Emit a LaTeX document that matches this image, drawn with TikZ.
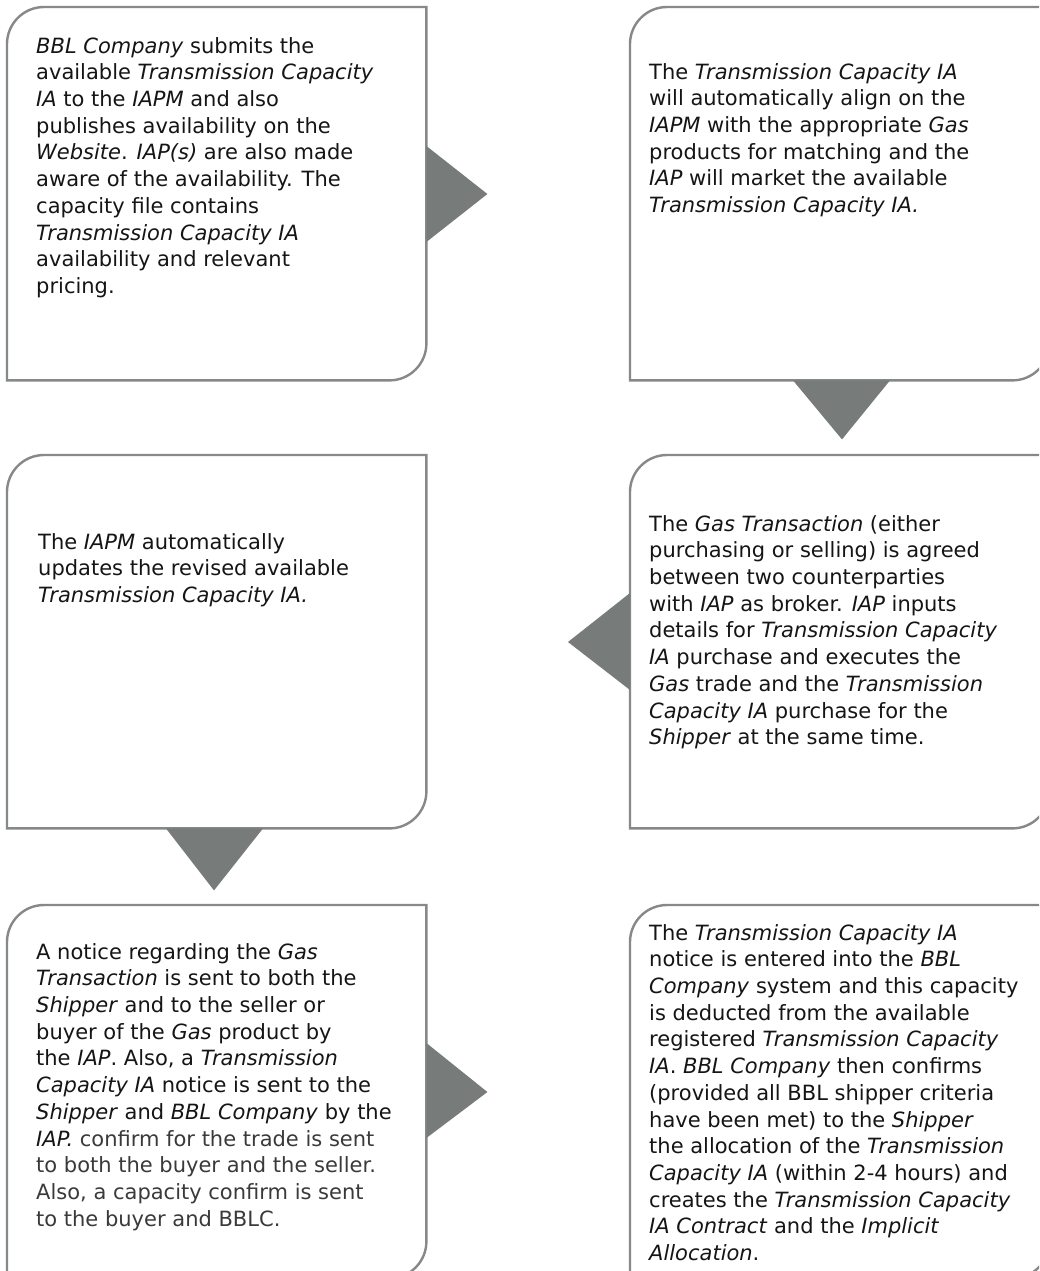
\documentclass[tikz,border=0pt]{standalone}
\usepackage{fontspec}
\setmainfont{DejaVu Sans}
\usetikzlibrary{calc}
\definecolor{boxgray}{HTML}{868988}
\definecolor{arrowgray}{HTML}{777C7B}
\definecolor{txt}{HTML}{151515}
\definecolor{txtlight}{HTML}{3A3A3A}
\tikzset{
  boxarea/.style={draw=none, minimum width=419pt, minimum height=373pt, inner sep=0pt, anchor=north west},
  boxline/.style={draw=boxgray, line width=2.4pt},
  arrowfill/.style={fill=arrowgray, draw=none},
  bodytext/.style={anchor=north west, inner sep=0pt, align=left, text=txt,
    font=\fontsize{21pt}{26.7pt}\selectfont},
}
\newcommand{\boxoutline}[1]{%
  \draw[boxline]
    ($(#1.south west)$) -- ($(#1.north west)+(0,37)$)
    .. controls ($(#1.north west)+(0,16.6)$) and ($(#1.north west)+(16.6,0)$) .. ($(#1.north west)+(37,0)$)
    -- ($(#1.north east)$) -- ($(#1.south east)+(0,-37)$)
    .. controls ($(#1.south east)+(0,-16.6)$) and ($(#1.south east)+(-16.6,0)$) .. ($(#1.south east)+(-37,0)$)
    -- cycle;}
\begin{document}
\begin{tikzpicture}[x=1pt,y=-1pt]
\useasboundingbox (0,0) rectangle (1039,1271);
\clip (0,0) rectangle (1039,1271);
\fill[white] (0,0) rectangle (1039,1271);

\node[boxarea] (b1) at (7,7) {};
\node[boxarea] (b2) at (630,7) {};
\node[boxarea] (b3) at (7,455) {};
\node[boxarea] (b4) at (630,455) {};
\node[boxarea] (b5) at (7,905) {};
\node[boxarea] (b6) at (630,905) {};

\boxoutline{b1}
\boxoutline{b2}
\boxoutline{b3}
\boxoutline{b4}
\boxoutline{b5}
\boxoutline{b6}

% arrows
\fill[arrowfill] ($(b1.north east)+(0,139)$) -- ($(b1.north east)+(61,187)$) -- ($(b1.north east)+(0,235)$) -- cycle;
\fill[arrowfill] ($(b2.south west)+(163,0)$) -- ($(b2.south west)+(212,59)$) -- ($(b2.south west)+(260,0)$) -- cycle;
\fill[arrowfill] ($(b4.north west)+(0,138)$) -- ($(b4.north west)+(-62,187)$) -- ($(b4.north west)+(0,235)$) -- cycle;
\fill[arrowfill] ($(b3.south west)+(159,0)$) -- ($(b3.south west)+(207,62)$) -- ($(b3.south west)+(256,0)$) -- cycle;
\fill[arrowfill] ($(b5.north east)+(0,138)$) -- ($(b5.north east)+(61,187)$) -- ($(b5.north east)+(0,233)$) -- cycle;

\node[bodytext] (t1) at (36,37) {\textit{BBL Company} submits the\\
available \textit{Transmission Capacity}\\
\textit{IA} to the \textit{IAPM} and also\\
publishes availability on the\\
\textit{Website}. \textit{IAP(s)} are also made\\
aware of the availability. The\\
capacity file contains\\
\textit{Transmission Capacity IA}\\
availability and relevant\\
pricing.};

\node[bodytext] (t2) at (649,63) {The \textit{Transmission Capacity IA}\\
will automatically align on the\\
\textit{IAPM} with the appropriate \textit{Gas}\\
products for matching and the\\
\textit{IAP} will market the available\\
\textit{Transmission Capacity IA.}};

\node[bodytext] (t3) at (38,533) {The \textit{IAPM} automatically\\
updates the revised available\\
\textit{Transmission Capacity IA.}};

\node[bodytext] (t4) at (649,515) {The \textit{Gas Transaction} (either\\
purchasing or selling) is agreed\\
between two counterparties\\
with \textit{IAP} as broker. \textit{IAP} inputs\\
details for \textit{Transmission Capacity}\\
\textit{IA} purchase and executes the\\
\textit{Gas} trade and the \textit{Transmission}\\
\textit{Capacity IA} purchase for the\\
\textit{Shipper} at the same time.};

\node[bodytext] (t5) at (36,943) {A notice regarding the \textit{Gas}\\
\textit{Transaction} is sent to both the\\
\textit{Shipper} and to the seller or\\
buyer of the \textit{Gas} product by\\
the \textit{IAP}. Also, a \textit{Transmission}\\
\textit{Capacity IA} notice is sent to the\\
\textit{Shipper} and \textit{BBL Company} by the\\
\textit{IAP.} \textcolor{txtlight}{confirm for the trade is sent}\\
\textcolor{txtlight}{to both the buyer and the seller.}\\
\textcolor{txtlight}{Also, a capacity confirm is sent}\\
\textcolor{txtlight}{to the buyer and BBLC.}};

\node[bodytext] (t6) at (649,924) {The \textit{Transmission Capacity IA}\\
notice is entered into the \textit{BBL}\\
\textit{Company} system and this capacity\\
is deducted from the available\\
registered \textit{Transmission Capacity}\\
\textit{IA}. \textit{BBL Company} then confirms\\
(provided all BBL shipper criteria\\
have been met) to the \textit{Shipper}\\
the allocation of the \textit{Transmission}\\
\textit{Capacity IA} (within 2-4 hours) and\\
creates the \textit{Transmission Capacity}\\
\textit{IA Contract} and the \textit{Implicit}\\
\textit{Allocation}.};
\end{tikzpicture}
\end{document}
